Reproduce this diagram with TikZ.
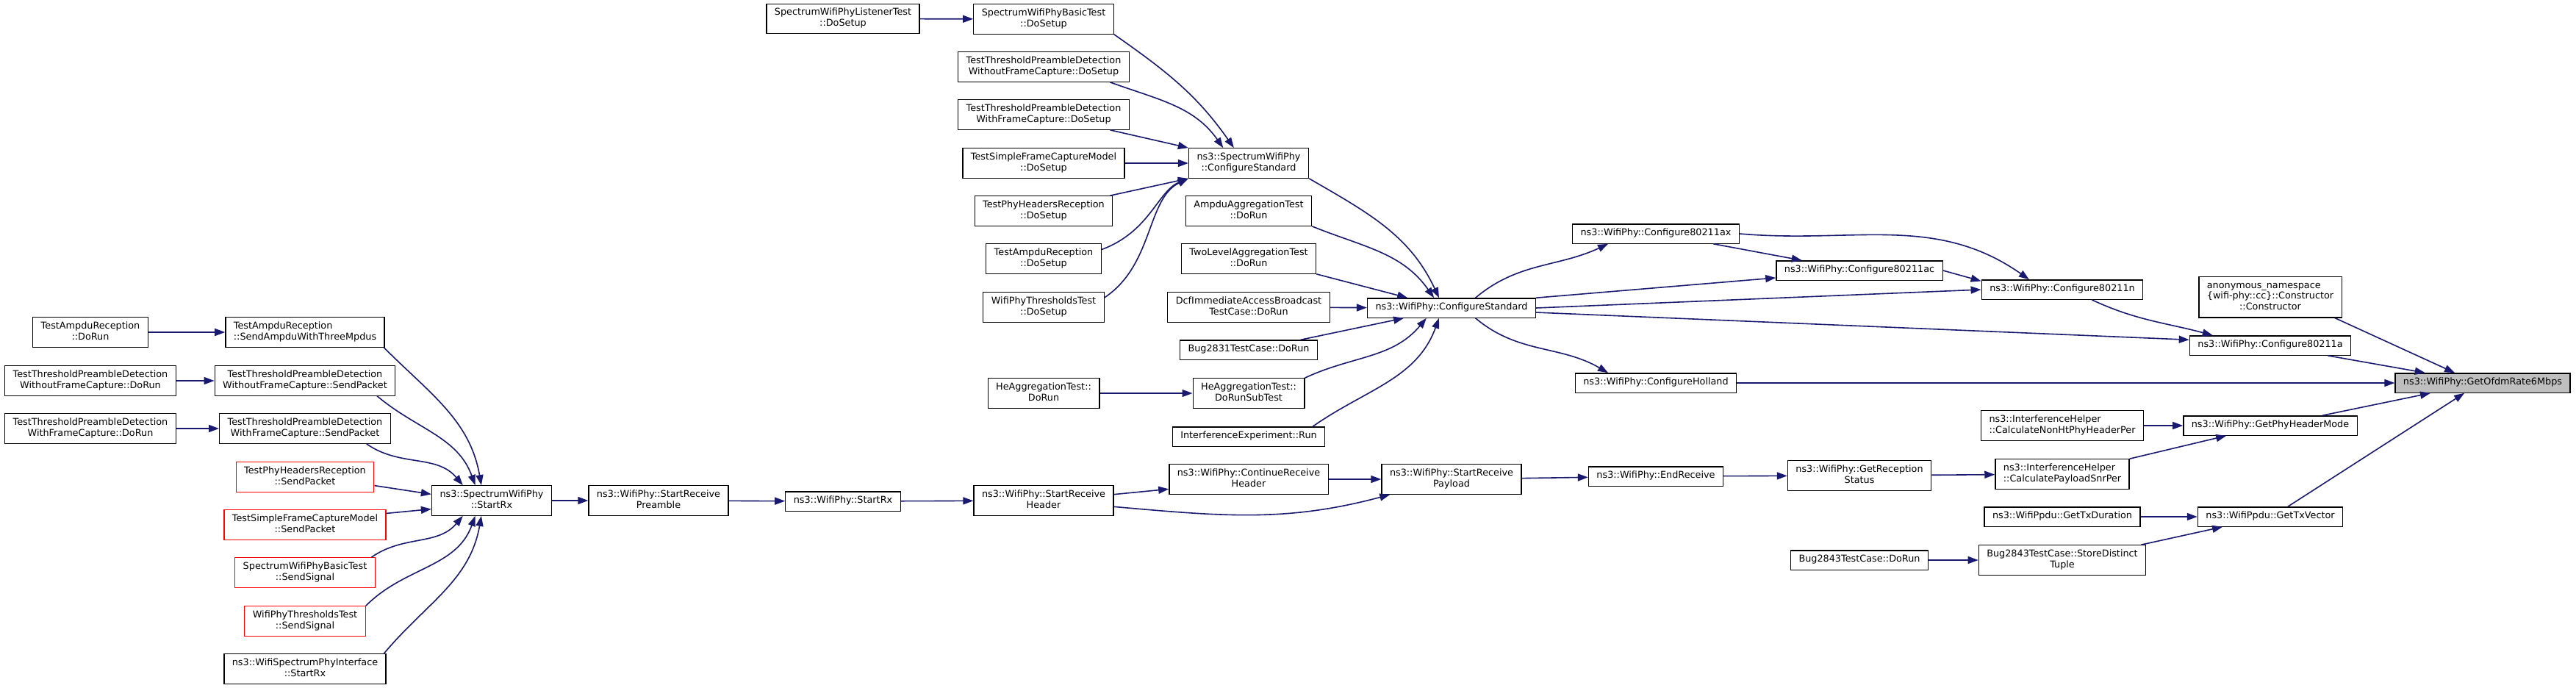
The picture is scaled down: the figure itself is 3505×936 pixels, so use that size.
\documentclass[tikz,border=0pt]{standalone}
\usepackage{fontspec}
\setmainfont{DejaVu Sans}
\usetikzlibrary{arrows.meta}
\definecolor{edgeblue}{HTML}{191970}
\definecolor{targetgray}{HTML}{BFBFBF}

\begin{document}
\begin{tikzpicture}[x=1pt,y=1pt,>={Triangle[length=14pt,width=10pt]},
   fn/.style={draw=black,fill=white,line width=1.3pt,inner xsep=11pt,inner ysep=5.8pt,align=center,
     font=\fontsize{12.8}{14.7}\selectfont,execute at begin node=\strut,execute at end node=\strut},
   fnleft/.style={fn,align=left},
   redfn/.style={fn,draw=red},
   targetfn/.style={fn,fill=targetgray},
   call/.style={->,draw=edgeblue,line width=1.6pt}]
   \useasboundingbox (0,0) rectangle (3505,-936);
   %test drivers
   \node[fn] (ardorun) at (123,-452) {TestAmpduReception\\::DoRun};
   \node[fn] (wofdorun) at (123,-518) {TestThresholdPreambleDetection\\WithoutFrameCapture::DoRun};
   \node[fn] (wfdorun) at (123,-583) {TestThresholdPreambleDetection\\WithFrameCapture::DoRun};
   %senders
   \node[fnleft] (sendampdu) at (415,-452) {TestAmpduReception\\::SendAmpduWithThreeMpdus};
   \node[fn] (wofsend) at (415,-518) {TestThresholdPreambleDetection\\WithoutFrameCapture::SendPacket};
   \node[fn] (wfsend) at (415,-583) {TestThresholdPreambleDetection\\WithFrameCapture::SendPacket};
   \node[redfn] (phsend) at (415,-649) {TestPhyHeadersReception\\::SendPacket};
   \node[redfn] (sfcsend) at (415,-714) {TestSimpleFrameCaptureModel\\::SendPacket};
   \node[redfn] (basicsend) at (415,-779) {SpectrumWifiPhyBasicTest\\::SendSignal};
   \node[redfn] (thrsend) at (415,-845) {WifiPhyThresholdsTest\\::SendSignal};
   \node[fn] (ifacerx) at (415,-910) {ns3::WifiSpectrumPhyInterface\\::StartRx};
   %receive chain
   \node[fn] (swprx) at (669,-681) {ns3::SpectrumWifiPhy\\::StartRx};
   \node[fn] (preamble) at (896,-681) {ns3::WifiPhy::StartReceive\\Preamble};
   \node[fn] (phyrx) at (1147,-682) {ns3::WifiPhy::StartRx};
   \node[fn] (rxheader) at (1420,-681) {ns3::WifiPhy::StartReceive\\Header};
   \node[fn] (contheader) at (1699,-652) {ns3::WifiPhy::ContinueReceive\\Header};
   \node[fn] (rxpayload) at (1975,-652) {ns3::WifiPhy::StartReceive\\Payload};
   \node[fn] (endrx) at (2253,-648) {ns3::WifiPhy::EndReceive};
   \node[fn] (rxstatus) at (2530,-647) {ns3::WifiPhy::GetReception\\Status};
   \node[fnleft] (snrper) at (2806,-645) {ns3::InterferenceHelper\\::CalculatePayloadSnrPer};
   \node[fnleft] (nonht) at (2806,-579) {ns3::InterferenceHelper\\::CalculateNonHtPhyHeaderPer};
   \node[fn] (hdrmode) at (3089,-579) {ns3::WifiPhy::GetPhyHeaderMode};
   %setups
   \node[fn] (listener) at (1147,-25.5) {SpectrumWifiPhyListenerTest\\::DoSetup};
   \node[fn] (basicsetup) at (1420,-26) {SpectrumWifiPhyBasicTest\\::DoSetup};
   \node[fn] (wofsetup) at (1420,-91) {TestThresholdPreambleDetection\\WithoutFrameCapture::DoSetup};
   \node[fn] (wfsetup) at (1420,-156) {TestThresholdPreambleDetection\\WithFrameCapture::DoSetup};
   \node[fn] (sfcsetup) at (1420,-222) {TestSimpleFrameCaptureModel\\::DoSetup};
   \node[fn] (phsetup) at (1420,-287) {TestPhyHeadersReception\\::DoSetup};
   \node[fn] (arsetup) at (1420,-352) {TestAmpduReception\\::DoSetup};
   \node[fn] (thrsetup) at (1420,-418) {WifiPhyThresholdsTest\\::DoSetup};
   \node[fn] (hedorun) at (1420,-535) {HeAggregationTest::\\DoRun};
   \node[fn] (swpcfg) at (1699,-222) {ns3::SpectrumWifiPhy\\::ConfigureStandard};
   \node[fn] (ampdurun) at (1699,-287) {AmpduAggregationTest\\::DoRun};
   \node[fn] (twolevel) at (1699,-352) {TwoLevelAggregationTest\\::DoRun};
   \node[fn] (dcf) at (1699,-418) {DcfImmediateAccessBroadcast\\TestCase::DoRun};
   \node[fn] (bugone) at (1699,-476) {Bug2831TestCase::DoRun};
   \node[fn] (hesub) at (1699,-535) {HeAggregationTest::\\DoRunSubTest};
   \node[fn] (interf) at (1699,-594) {InterferenceExperiment::Run};
   %configure
   \node[fn] (cfgstd) at (1975,-419) {ns3::WifiPhy::ConfigureStandard};
   \node[fn] (cfgax) at (2253,-318) {ns3::WifiPhy::Configure80211ax};
   \node[fn] (holland) at (2253,-521) {ns3::WifiPhy::ConfigureHolland};
   \node[fn] (cfgac) at (2530,-368) {ns3::WifiPhy::Configure80211ac};
   \node[fn] (cfgn) at (2806,-394) {ns3::WifiPhy::Configure80211n};
   \node[fn] (ctor) at (3089,-404) {\begin{tabular}{@{}l@{}}anonymous\_namespace\\\{wifi-phy::cc\}::Constructor\\\multicolumn{1}{@{}c@{}}{::Constructor}\end{tabular}};
   \node[fn] (cfga) at (3089,-470) {ns3::WifiPhy::Configure80211a};
   %tx side
   \node[fn] (bugtwo) at (2530,-762) {Bug2843TestCase::DoRun};
   \node[fn] (txdur) at (2806,-703) {ns3::WifiPpdu::GetTxDuration};
   \node[fn] (storetuple) at (2806,-762) {Bug2843TestCase::StoreDistinct\\Tuple};
   \node[fn] (txvec) at (3089,-703) {ns3::WifiPpdu::GetTxVector};
   \node[targetfn] (ofdm) at (3378,-521) {ns3::WifiPhy::GetOfdmRate6Mbps};
   %calls into SpectrumWifiPhy::StartRx
   \draw[call] (ardorun) -- (sendampdu);
   \draw[call] (wofdorun) -- (wofsend);
   \draw[call] (wfdorun) -- (wfsend);
   \draw[call] (sendampdu.-11) to[out=-45,in=100] (swprx.124);
   \draw[call] (wofsend.-12) to[out=-40,in=110] (swprx.137);
   \draw[call] (wfsend.-14) to[out=-35,in=130] (swprx.152);
   \draw[call] (phsend.-7) -- (swprx.174);
   \draw[call] (sfcsend.8) -- (swprx.188);
   \draw[call] (basicsend.13) to[out=35,in=-130] (swprx.-152);
   \draw[call] (thrsend.north east) to[out=45,in=-110] (swprx.-137);
   \draw[call] (ifacerx.11) to[out=50,in=-100] (swprx.-124);
   %receive chain
   \draw[call] (swprx) -- (preamble);
   \draw[call] (preamble) -- (phyrx);
   \draw[call] (phyrx) -- (rxheader);
   \draw[call] (rxheader.5) -- (contheader.187);
   \draw[call] (rxheader.-5) to[out=-5,in=195] (rxpayload.-166);
   \draw[call] (contheader) -- (rxpayload);
   \draw[call] (rxpayload) -- (endrx);
   \draw[call] (endrx) -- (rxstatus);
   \draw[call] (rxstatus) -- (snrper);
   \draw[call] (snrper.north east) -- (hdrmode.-167);
   \draw[call] (nonht) -- (hdrmode);
   %setups
   \draw[call] (listener) -- (basicsetup);
   \draw[call] (basicsetup.south east) to[out=-35,in=125] (swpcfg.134);
   \draw[call] (wofsetup.-13) to[out=-20,in=125] (swpcfg.149);
   \draw[call] (wfsetup.-13) -- (swpcfg.north west);
   \draw[call] (sfcsetup) -- (swpcfg);
   \draw[call] (phsetup.13) -- (swpcfg.south west);
   \draw[call] (arsetup.9) .. controls (1565,-315) and (1575,-260) .. (swpcfg.south west);
   \draw[call] (thrsetup.9) .. controls (1570,-360) and (1560,-270) .. (swpcfg.south west);
   \draw[call] (hedorun) -- (hesub);
   %into WifiPhy::ConfigureStandard
   \draw[call] (swpcfg.south east) to[out=-30,in=115] (cfgstd.141);
   \draw[call] (ampdurun.south east) to[out=-22,in=125] (cfgstd.150);
   \draw[call] (twolevel.south east) -- (cfgstd.167);
   \draw[call] (dcf) -- (cfgstd);
   \draw[call] (bugone.11) -- (cfgstd.192);
   \draw[call] (hesub.north east) to[out=25,in=-130] (cfgstd.-158);
   \draw[call] (interf.9) to[out=35,in=-110] (cfgstd.-141);
   %configure
   \draw[call] (cfgstd.23) to[out=40,in=-155] (cfgax.192);
   \draw[call] (cfgstd.north east) -- (cfgac.185);
   \draw[call] (cfgstd.east) -- (cfgn.west);
   \draw[call] (cfgstd.-3) -- (cfga.176);
   \draw[call] (cfgstd.-23) to[out=-40,in=150] (holland.168);
   \draw[call] (cfgax.-10) -- (cfgac.170);
   \draw[call] (cfgax.east) to[out=-5,in=145] (cfgn.163);
   \draw[call] (cfgac.east) -- (cfgn.174);
   \draw[call] (cfgn.-19) to[out=-25,in=165] (cfga.170);
   %into GetOfdmRate6Mbps
   \draw[call] (cfga.-10) -- (ofdm.170);
   \draw[call] (ctor.-18) -- (ofdm.160);
   \draw[call] (holland) -- (ofdm);
   \draw[call] (hdrmode.11) -- (ofdm.-169);
   \draw[call] (txvec.30) -- (ofdm.-151);
   %tx side
   \draw[call] (txdur) -- (txvec);
   \draw[call] (bugtwo) -- (storetuple);
   \draw[call] (storetuple.11) -- (txvec.-168);
\end{tikzpicture}
\end{document}
